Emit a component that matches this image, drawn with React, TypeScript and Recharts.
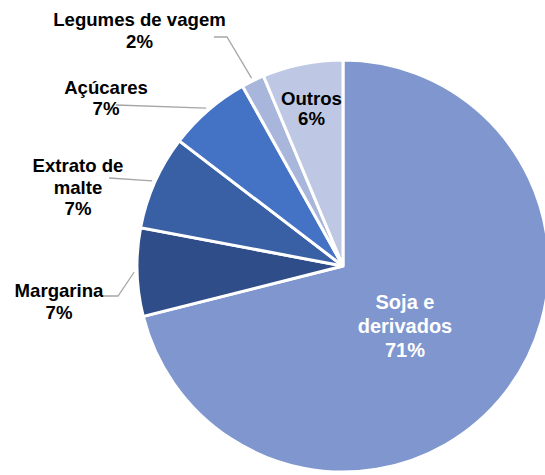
import { PieChart, Pie, Cell } from 'recharts';

const categories = ['Soja e derivados', 'Margarina', 'Extrato de malte', 'Açúcares', 'Legumes de vagem', 'Outros'];
const shares = [71.0, 6.9, 7.4, 6.5, 1.8, 6.3];
const COLORS = ['#7F96CE', '#2F4E89', '#3960A5', '#4472C4', '#A8B6DB', '#BEC8E5'];

// label layout: text lines, text center x, first baseline y, line gap, font size, colour, leader polyline (without the arc end)
const LABELS = [
  { lines: ['Soja e', 'derivados'], x: 405, y: 309, gap: 24, size: 20, color: '#fff', leader: null },
  { lines: ['Margarina'], x: 59, y: 297, gap: 21.5, size: 18.6, color: '#000', leader: [[104, 296], [118, 296]] },
  { lines: ['Extrato de', 'malte'], x: 78, y: 172, gap: 21.5, size: 18.6, color: '#000', leader: [[109, 178]] },
  { lines: ['Açúcares'], x: 106, y: 93.5, gap: 21.5, size: 18.6, color: '#000', leader: [[116, 105]] },
  { lines: ['Legumes de vagem'], x: 139.5, y: 26, gap: 21.5, size: 18.6, color: '#000', leader: [[214, 37], [227, 37]] },
  { lines: ['Outros'], x: 311.5, y: 105, gap: 20, size: 18.6, color: '#000', leader: null },
];

const data = categories.map((name, i) => ({ name, value: shares[i] }));
const RAD = Math.PI / 180;

function renderLabel(props: any) {
  const { cx, cy, midAngle, outerRadius, percent, index } = props;
  const l = LABELS[index];
  const lines = [...l.lines, `${Math.round(percent * 100)}%`];
  let leader = null;
  if (l.leader) {
    const r = outerRadius + 3;
    const end = [cx + r * Math.cos(-midAngle * RAD), cy + r * Math.sin(-midAngle * RAD)];
    const pts = [...l.leader, end].map((p) => p.join(',')).join(' ');
    leader = <polyline points={pts} fill="none" stroke="#A6A6A6" strokeWidth={1.3} />;
  }
  return (
    <g key={`lbl-${index}`}>
      {leader}
      <text
        x={l.x}
        y={l.y}
        textAnchor="middle"
        fill={l.color}
        fontSize={l.size}
        fontWeight="bold"
        fontFamily="'Liberation Sans', Arial, sans-serif"
      >
        {lines.map((t, i) => (
          <tspan key={i} x={l.x} y={l.y + i * l.gap}>{t}</tspan>
        ))}
      </text>
    </g>
  );
}

export default function App() {
  return (
    <div style={{ position: 'absolute', left: 0, top: 0, width: 545, height: 475, background: '#fff' }}>
      <PieChart width={545} height={475} margin={{ top: 0, right: 0, bottom: 0, left: 0 }}>
        <Pie
          data={data}
          dataKey="value"
          nameKey="name"
          cx={343}
          cy={266}
          outerRadius={206}
          startAngle={90}
          endAngle={-270}
          stroke="#fff"
          strokeWidth={3}
          label={renderLabel}
          labelLine={false}
          isAnimationActive={false}
        >
          {data.map((_, i) => <Cell key={i} fill={COLORS[i]} />)}
        </Pie>
      </PieChart>
    </div>
  );
}
